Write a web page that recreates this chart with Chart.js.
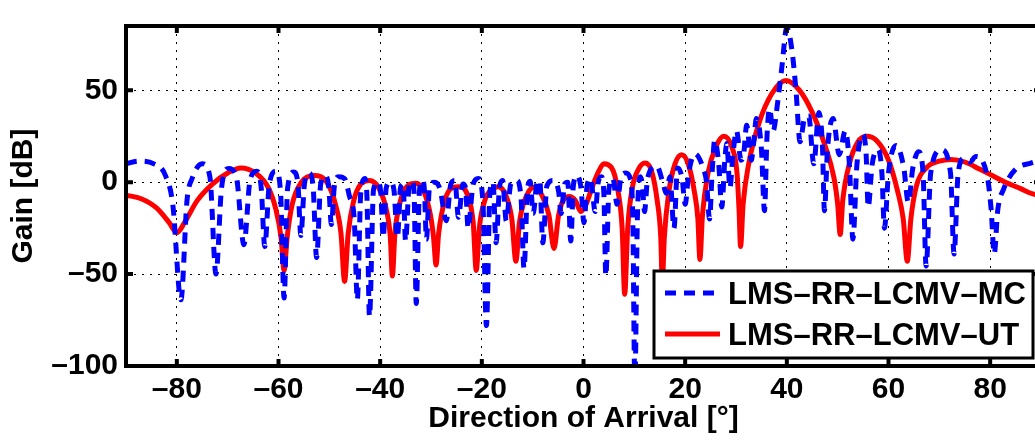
<!DOCTYPE html>
<html>
<head>
<meta charset="utf-8">
<title>Beampattern</title>
<script src="https://cdn.jsdelivr.net/npm/chart.js@4.4.0/dist/chart.umd.min.js"></script>
<style>
    html, body { margin: 0; padding: 0; background: #fff; overflow: hidden; }
</style>
</head>
<body>
<canvas id="beamChart" width="1050" height="441"></canvas>
<script>
// Values (gain in dB vs. direction of arrival in degrees)
const mcLabel = 'LMS–RR–LCMV–MC';
const mcAngle = [-90, -87.5, -84.5, -82.3, -80.8, -79.2, -78, -77, -75, -73.5, -72.3, -71.2, -69.8, -68.3, -66.8, -65.6, -64.3, -63.4, -62.7, -61.8,
    -60.5, -59.6, -58.9, -58.2, -57, -56.2, -55.6, -54.9, -54, -53.2, -52.5, -51.7, -50.8, -50.1, -49.6, -49, -48.2, -47, -46, -45.1,
    -44.5, -43.8, -43, -42.6, -42.1, -41.3, -40.5, -39.9, -39.4, -38.8, -38, -37.3, -36.6, -36, -35.5, -35, -34.3, -33.6, -33.3, -32.9,
    -32.3, -31.7, -31.3, -30.9, -30.3, -29.3, -28.2, -27, -26.1, -25.3, -24.6, -23.7, -23.2, -22.7, -21.7, -20.7, -19.8, -19.1, -18.4, -17.8,
    -17.2, -16.5, -15.9, -15.2, -14.3, -13.2, -12.3, -11.7, -11, -10.5, -9.9, -9.2, -8.6, -8, -7.2, -6, -4.9, -4.4, -3.7, -3.1,
    -2.5, -2, -1.3, -0.5, 0.1, 0.7, 1.4, 2.3, 2.9, 3.5, 4, 4.4, 5, 5.8, 6.6, 7.4, 8.3, 9.2, 9.7, 10.1,
    10.6, 11.2, 11.6, 12, 12.6, 14.4, 15.6, 16.3, 17, 17.8, 18.5, 19.4, 20, 20.7, 21.9, 23.5, 24.2, 24.8, 25.3, 25.8,
    26.6, 27.2, 27.8, 28.2, 28.8, 29.4, 30.1, 31, 31.5, 32.1, 33, 33.5, 34, 35, 35.6, 36.1, 36.6, 37.3, 38.2, 39,
    40, 41, 41.8, 42.6, 43.5, 44.3, 45.3, 46.3, 47, 47.4, 48, 49.1, 50.3, 51.5, 52.3, 53, 53.8, 55, 55.6, 56,
    56.8, 58, 58.7, 59.2, 60, 61.5, 63, 63.9, 64.8, 65.9, 66.8, 67.4, 68.3, 70.4, 72.2, 72.9, 73.7, 74.9, 76, 77.2,
    79.5, 80.2, 80.8, 81.5, 82.6, 85, 88, 90];
const mcGain = [10, 11.5, 10, 4, -12, -64, -10, 2, 10, 3, -50, -3, 7.5, 3, -34, 1, 6, -3, -35, -1,
    6, -5, -63, -3, 5.5, 0, -29, -1, 5, -2, -41, -1, 3.5, -3, -23, -2, 3, 2, -8, -20,
    -64, -5, 2, -8, -73, -4, 0, -5, -30, -3, 0, -4, -30, -3, -1, -32, -2, 0.5, -8, -66,
    -6, 1, -4, -31, -3, 0, -4, -21, -1, 1, -19, -1, -3, -25, -1, 2, -10, -78, -5, 0,
    -33, -2, 1, -21, -1, 1, -8, -47, -3, 0.5, -17, -1, 1, -33, -2, 1, -5, -17, -1, 0,
    -32, -2, 3.6, -3, -22, -2, 2, -16, 0, 3, -6, -51, -4, 2, -12, 3, 5, 2, -20, -110,
    -20, 3, -2, -16, 2, 8.8, 0, -6, 3, -25, 7.8, 2, -12, 5, 15.5, 8, 0, -20, 5, 22.8,
    10, -13.5, 12, 21, -3, 15, 28, 12, 15, 31, 12, 22, 34.7, 18, -15.5, 25, 40, 28, 43.5, 62,
    84, 72, 50, 22, 35, 36, 10, 38, 20, -15.5, 18, 34.7, 15, 28, 10, -31, 10, 26, 15, -13.5,
    10, 17.6, 5, -25, 5, 20, 8, -11, 8, 16.6, 5, -45.6, 5, 17.6, 5, -39, 5, 13, 11, 14,
    2, -15, -39, -15, -4, 7, 10.4, 12];

const utLabel = 'LMS–RR–LCMV–UT';
const utAngle = [-90, -87, -84, -81.5, -80, -78.5, -76, -73, -70, -67.4, -64.5, -62, -60.5, -59.5, -58.9, -58.3, -57.3, -55.5, -53, -50.5,
    -48.8, -47.7, -47, -46.3, -45.2, -43.8, -42.1, -40.3, -38.7, -38, -37.6, -37.1, -36, -34.6, -33, -31.4, -30.1, -29.5, -29, -28.5,
    -27.3, -25.8, -24.4, -22.8, -21.7, -21.1, -20.5, -19.3, -18, -16.8, -15.3, -14.1, -13.3, -12.6, -11.3, -9.7, -8.2, -6.8, -5.8, -4.9,
    -3.8, -2.8, -1.6, -0.5, 0.5, 1.8, 3, 4, 5.5, 6.8, 7.6, 8.1, 8.7, 9.6, 10.8, 12.1, 13.4, 14.5, 15.2, 15.5,
    15.9, 16.8, 18, 19.3, 20.6, 21.8, 22.5, 22.9, 23.4, 24.5, 26, 27.6, 29.2, 30.2, 30.6, 30.9, 31.4, 32.5, 34.5, 37,
    39.8, 42.5, 45, 47.5, 49.3, 50, 50.5, 51, 52.3, 54, 55.7, 57.6, 60, 61.8, 62.9, 63.7, 64.4, 65.5, 67.5, 70,
    72.3, 75, 78, 80.5, 83, 86, 88, 90];
const utGain = [-7, -9, -14, -22, -27.5, -22, -10, -1, 5, 7.8, 5, -3, -15, -30, -48, -30, -12, 0, 3.6, 0,
    -12, -28, -54, -28, -10, -1, 1, -3, -16, -30, -51, -28, -10, -2, -0.6, -5, -18, -30, -45, -28,
    -10, -3, -2.5, -7, -22, -48, -25, -9, -4, -2.5, -7, -20, -43, -22, -8, -2.7, -7, -18, -36, -18,
    -9, -7.8, -10, -16, -12, -2, 6, 10, 8, -5, -25, -61, -25, -3, 7, 10.4, 6, -10, -30, -55,
    -30, -5, 10, 15, 10, -5, -20, -42, -18, 5, 19, 25, 19, 5, -15, -35, -12, 10, 32, 48,
    55.4, 50, 38, 20, 2, -12, -28.5, -10, 10, 22, 25, 22.8, 12, -5, -20, -43, -20, -2, 8, 11.5,
    12.4, 11, 7, 3.5, 0, -3.5, -6, -7.5];

const xTickValues = [-80, -60, -40, -20, 0, 20, 40, 60, 80];
const yTickValues = [-100, -50, 0, 50];

const toPoints = (xs, ys) => xs.map((v, i) => ({ x: v, y: ys[i] }));
const minusSign = v => String(v).replace('-', '–');

Chart.defaults.font.family = '"Liberation Sans", Arial, Helvetica, sans-serif';
Chart.defaults.font.weight = 'bold';
Chart.defaults.color = '#000';

// Box, inward tick marks and legend drawn the MATLAB way
const frameAndLegend = {
    id: 'frameAndLegend',
    afterDraw(chart) {
        const { ctx, chartArea: a, scales: { x, y } } = chart;
        ctx.save();
        ctx.setLineDash([]);
        ctx.strokeStyle = '#000';
        ctx.lineWidth = 4;
        ctx.beginPath();
        ctx.rect(a.left, a.top, a.right - a.left, a.bottom - a.top);
        x.ticks.forEach(t => {
            const px = x.getPixelForValue(t.value);
            ctx.moveTo(px, a.top); ctx.lineTo(px, a.top + 7);
            ctx.moveTo(px, a.bottom); ctx.lineTo(px, a.bottom - 7);
        });
        y.ticks.forEach(t => {
            const py = y.getPixelForValue(t.value);
            ctx.moveTo(a.left, py); ctx.lineTo(a.left + 7, py);
            ctx.moveTo(a.right, py); ctx.lineTo(a.right - 7, py);
        });
        ctx.stroke();

        // legend box (lower right)
        const bx = 654, by = 271, bw = 379, bh = 87;
        ctx.fillStyle = '#fff';
        ctx.fillRect(bx, by, bw, bh);
        ctx.lineWidth = 3;
        ctx.strokeRect(bx, by, bw, bh);
        chart.data.datasets.forEach((ds, i) => {
            const ly = by + 22 + i * 41;
            ctx.beginPath();
            ctx.strokeStyle = ds.borderColor;
            ctx.lineWidth = ds.borderWidth;
            ctx.setLineDash(ds.borderDash || []);
            ctx.moveTo(bx + 11, ly);
            ctx.lineTo(bx + 66, ly);
            ctx.stroke();
            ctx.setLineDash([]);
            ctx.fillStyle = '#000';
            ctx.font = 'bold 31px "Liberation Sans", Arial, sans-serif';
            ctx.textBaseline = 'middle';
            ctx.fillText(ds.label, bx + 74, ly + 2);
        });
        ctx.restore();
    }
};

new Chart(document.getElementById('beamChart'), {
    type: 'line',
    data: {
        datasets: [
            {
                label: mcLabel,
                data: toPoints(mcAngle, mcGain),
                borderColor: '#0000ff',
                borderWidth: 5,
                borderDash: [11, 8],
                pointRadius: 0,
                cubicInterpolationMode: 'monotone',
                fill: false
            },
            {
                label: utLabel,
                data: toPoints(utAngle, utGain),
                borderColor: '#ff0000',
                borderWidth: 5,
                pointRadius: 0,
                cubicInterpolationMode: 'monotone',
                fill: false
            }
        ]
    },
    options: {
        responsive: false,
        animation: false,
        layout: { padding: { top: 9, right: 9, left: 0, bottom: 0 } },
        plugins: {
            legend: { display: false },
            tooltip: { enabled: false }
        },
        scales: {
            x: {
                type: 'linear',
                min: -90,
                max: 90,
                afterBuildTicks: s => { s.ticks = xTickValues.map(v => ({ value: v })); },
                afterFit: s => { s.height = 75; },
                grid: { color: '#000', lineWidth: 1, drawTicks: false },
                border: { display: false, dash: [2, 6] },
                ticks: { font: { size: 30 }, padding: 6, maxRotation: 0, callback: v => minusSign(v) },
                title: { display: true, text: 'Direction of Arrival [°]', font: { size: 30 }, padding: { top: 0, bottom: 4 } }
            },
            y: {
                min: -100,
                max: 85,
                afterBuildTicks: s => { s.ticks = yTickValues.map(v => ({ value: v })); },
                afterFit: s => { s.width = 126; },
                grid: { color: '#000', lineWidth: 1, drawTicks: false },
                border: { display: false, dash: [2, 6] },
                ticks: { font: { size: 30 }, padding: 8, callback: v => minusSign(v) },
                title: { display: true, text: 'Gain [dB]', font: { size: 30 }, padding: { top: 6, bottom: 0 } }
            }
        }
    },
    plugins: [frameAndLegend]
});
</script>
</body>
</html>
